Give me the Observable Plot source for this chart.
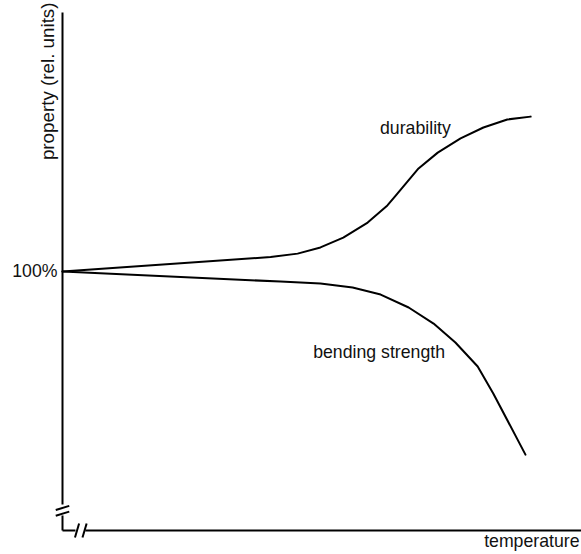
<!DOCTYPE html>
<html>
<head>
<meta charset="utf-8">
<script src="https://cdn.jsdelivr.net/npm/d3@7"></script>
<script src="https://cdn.jsdelivr.net/npm/@observablehq/plot@0.6"></script>
<style>
  html, body { margin: 0; padding: 0; background: #fff; }
  svg { display: block; }
</style>
</head>
<body>
<div id="chart"></div>
<script>
// Temperature in relative units (0–100), property in % of initial value
const durabilityTemp  = [0, 40.1, 45.3, 49.7, 54.1, 58.8, 62.6, 64.2, 68.6, 72.3, 76.7, 81.1, 85.7, 90.2];
const durabilityValue = [100, 105.6, 106.9, 109.3, 113.1, 118.9, 125.5, 129.3, 139.8, 145.9, 151.4, 155.6, 158.7, 159.8];

const bendingTemp  = [0, 42.0, 49.7, 55.9, 61.3, 66.7, 71.5, 75.7, 80.0, 83.0, 89.2];
const bendingValue = [100, 96.1, 95.4, 93.8, 91.1, 86.1, 79.9, 72.6, 63.3, 52.9, 29.3];

const seriesLabels = ["durability", "bending strength"];
const labelTemp  = [68.0, 61.0];
const labelValue = [155.2, 68.7];

const yTickValues = [100];
const yTickLabels = ["100%"];

const xLabel = "temperature";
const yLabel = "property (rel. units)";

const durability = durabilityTemp.map((t, i) => ({t, v: durabilityValue[i]}));
const bending = bendingTemp.map((t, i) => ({t, v: bendingValue[i]}));
const labels = seriesLabels.map((s, i) => ({s, t: labelTemp[i], v: labelValue[i]}));

// axis break placement (data units)
const yBreakLo = 5.8, yBreakHi = 10.0;
const xBreakLo = 2.5, xBreakHi = 4.4;

const font = "Liberation Sans, Arial, Helvetica, sans-serif";
const fs = 17.7;
const ink = "#000";

const chart = Plot.plot({
  width: 581,
  height: 554,
  marginLeft: 62,
  marginRight: 0,
  marginTop: 12,
  marginBottom: 24,
  style: {fontFamily: font, fontSize: fs + "px", background: "#fff", overflow: "visible"},
  x: {domain: [0, 100], axis: null},
  y: {domain: [0, 200], axis: null},
  marks: [
    // y axis with break
    Plot.link([0], {x1: 0, x2: 0, y1: yBreakHi, y2: 200, stroke: ink, strokeWidth: 2}),
    Plot.link([0], {x1: 0, x2: 0, y1: 0, y2: yBreakLo, stroke: ink, strokeWidth: 2}),
    // x axis with break
    Plot.link([0], {x1: 0, x2: xBreakLo, y1: 0, y2: 0, stroke: ink, strokeWidth: 2}),
    Plot.link([0], {x1: xBreakHi, x2: 100, y1: 0, y2: 0, stroke: ink, strokeWidth: 2}),
    // y-axis break slashes
    Plot.link([yBreakLo + 0.7, yBreakHi - 1.3], {
      x1: -1.3, x2: 1.3, y1: d => d - 0.8, y2: d => d + 0.8,
      stroke: ink, strokeWidth: 2
    }),
    // x-axis break slashes
    Plot.link([xBreakLo - 0.1, xBreakHi - 0.55], {
      x1: d => d, x2: d => d + 0.8, y1: -2.7, y2: 2.7,
      stroke: ink, strokeWidth: 2
    }),
    // curves
    Plot.line(durability, {x: "t", y: "v", stroke: ink, strokeWidth: 2, curve: "linear"}),
    Plot.line(bending, {x: "t", y: "v", stroke: ink, strokeWidth: 2, curve: "linear"}),
    // series labels
    Plot.text(labels, {x: "t", y: "v", text: "s", fill: "#111", fontSize: fs, textAnchor: "middle"}),
    // tick label
    Plot.text(yTickValues, {x: 0, y: d => d, text: (d, i) => yTickLabels[i], textAnchor: "end", dx: -5, fill: "#111", fontSize: fs}),
    // axis titles
    Plot.text([xLabel], {frameAnchor: "bottom-right", text: d => d, textAnchor: "end", dx: -2, dy: 16, fill: "#111", fontSize: fs}),
    Plot.text([yLabel], {frameAnchor: "top-left", text: d => d, rotate: -90, textAnchor: "end", dx: -22, dy: -10, fill: "#111", fontSize: 18.8})
  ]
});
document.getElementById("chart").appendChild(chart);
</script>
</body>
</html>
